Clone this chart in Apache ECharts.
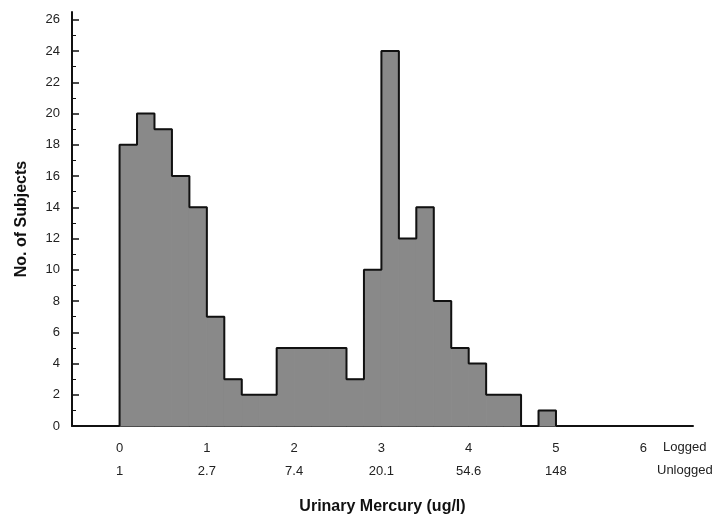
<!DOCTYPE html>
<html>
<head>
<meta charset="utf-8">
<script src="https://cdn.jsdelivr.net/npm/echarts@6/dist/echarts.min.js"></script>
<style>
    html, body { margin: 0; padding: 0; background: #fff; }
    #chart { width: 717px; height: 523px; }
</style>
</head>
<body>
<div id="chart"></div>
<script>
// histogram bins (log scale), 0.2 wide
var binStarts = [0, 0.2, 0.4, 0.6, 0.8, 1.0, 1.2, 1.4, 1.6, 1.8, 2.0, 2.2, 2.4,
                 2.6, 2.8, 3.0, 3.2, 3.4, 3.6, 3.8, 4.0, 4.2, 4.4, 4.6, 4.8];
var binWidth = 0.2;
var counts = [18, 20, 19, 16, 14, 7, 3, 2, 2, 5, 5, 5, 5,
              3, 10, 24, 12, 14, 8, 5, 4, 2, 2, 0, 1];

var loggedTicks = [0, 1, 2, 3, 4, 5, 6];
var unloggedLabels = ['1', '2.7', '7.4', '20.1', '54.6', '148', ''];
var yMajorTicks = [0, 2, 4, 6, 8, 10, 12, 14, 16, 18, 20, 22, 24, 26];
var yMinorTicks = [1, 3, 5, 7, 9, 11, 13, 15, 17, 19, 21, 23, 25];

var font = '"Liberation Sans", Arial, sans-serif';

var rectData = binStarts.map(function(x, i) {
    return [x, x + binWidth, counts[i]];
});

// outline of the histogram, drawn as a step line
var outline = [[binStarts[0], 0]];
binStarts.forEach(function(x, i) {
    outline.push([x, counts[i]]);
});
outline.push([binStarts[binStarts.length - 1] + binWidth, 0]);

var myChart = echarts.init(document.getElementById('chart'));

var option = {
    backgroundColor: '#fff',
    animation: false,
    grid: {
        left: 72,
        right: 24,
        top: 12,
        bottom: 97
    },
    xAxis: {
        type: 'value',
        min: -0.545,
        max: 6.57,
        name: 'Urinary Mercury (ug/l)',
        nameLocation: 'middle',
        nameGap: 73,
        nameTextStyle: {
            fontFamily: font,
            fontSize: 16,
            fontWeight: 'bold',
            color: '#111'
        },
        axisLine: { onZero: false, lineStyle: { color: '#111', width: 2 } },
        axisTick: { show: false },
        splitLine: { show: false },
        axisLabel: {
            customValues: loggedTicks,
            margin: 11,
            formatter: function(v) {
                var i = loggedTicks.indexOf(v);
                return '{a|' + v + '}\n{b|' + (unloggedLabels[i] || ' ') + '}';
            },
            rich: {
                a: { fontFamily: font, fontSize: 13, color: '#222', lineHeight: 23 },
                b: { fontFamily: font, fontSize: 13, color: '#222', lineHeight: 23 }
            }
        }
    },
    yAxis: [
        {
            type: 'value',
            min: 0,
            max: 26.5,
            interval: 2,
            name: 'No. of Subjects',
            nameLocation: 'middle',
            nameGap: 42,
            nameTextStyle: {
                fontFamily: font,
                fontSize: 16,
                fontWeight: 'bold',
                color: '#111'
            },
            axisLine: { show: true, onZero: false, lineStyle: { color: '#111', width: 2 } },
            axisTick: {
                show: true,
                inside: true,
                length: 7,
                customValues: yMajorTicks,
                lineStyle: { color: '#111', width: 1.5 }
            },
            splitLine: { show: false },
            axisLabel: {
                customValues: yMajorTicks,
                margin: 12,
                fontFamily: font,
                fontSize: 13,
                color: '#222'
            }
        },
        {
            type: 'value',
            min: 0,
            max: 26.5,
            position: 'left',
            axisLine: { show: false, onZero: false },
            axisLabel: { show: false },
            splitLine: { show: false },
            axisTick: {
                show: true,
                inside: true,
                length: 4,
                customValues: yMinorTicks,
                lineStyle: { color: '#111', width: 1 }
            }
        }
    ],
    graphic: [
        {
            type: 'text',
            left: 663,
            top: 441,
            style: { text: 'Logged', font: '13px ' + font, fill: '#222' }
        },
        {
            type: 'text',
            left: 657,
            top: 464,
            style: { text: 'Unlogged', font: '13px ' + font, fill: '#222' }
        }
    ],
    series: [
        {
            type: 'custom',
            data: rectData,
            encode: { x: [0, 1], y: 2 },
            renderItem: function(params, api) {
                var p0 = api.coord([api.value(0), api.value(2)]);
                var p1 = api.coord([api.value(1), 0]);
                return {
                    type: 'rect',
                    shape: { x: p0[0], y: p0[1], width: p1[0] - p0[0], height: p1[1] - p0[1] },
                    style: { fill: '#898989', stroke: '#898989', lineWidth: 1 }
                };
            },
            z: 2
        },
        {
            type: 'line',
            data: outline,
            step: 'end',
            symbol: 'none',
            lineStyle: { color: '#111', width: 2 },
            z: 3
        }
    ]
};

myChart.setOption(option);
</script>
</body>
</html>
